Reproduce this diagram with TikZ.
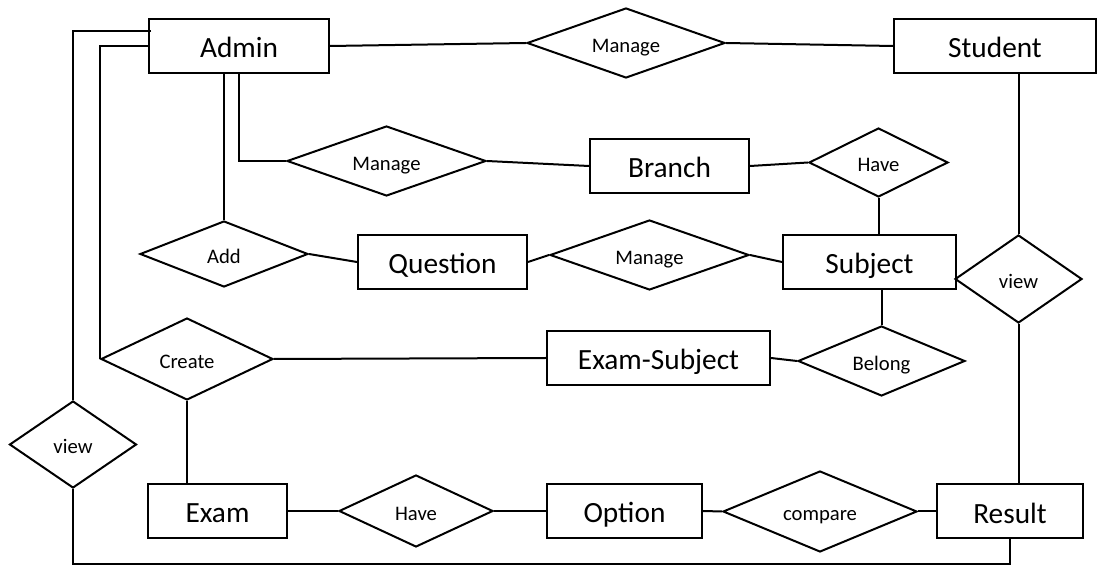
\documentclass[tikz,border=0pt]{standalone}
\usepackage{fontspec}
\setmainfont{Carlito}
\usepackage{tikz}
\usetikzlibrary{shapes.geometric,calc}

\begin{document}
\begin{tikzpicture}[x=0.75pt,y=-0.75pt,line width=1.5pt,
  entity/.style={draw,rectangle,minimum height=40.5pt,inner sep=0pt,text height=20pt,text depth=2pt,font=\fontsize{22}{26}\selectfont},
  relation/.style={draw,diamond,aspect=3,inner sep=0pt,text height=16pt,text depth=2pt,font=\fontsize{15.5}{18}\selectfont}]
\useasboundingbox (0,0) rectangle (1097,566);

\foreach \nm/\pos/\w/\txt in {{admin/(239,46)/135/Admin},{student/(995,46)/151.5/Student},{branch/(669.5,166)/119.25/Branch},{question/(442.5,262)/126.75/Question},{subject/(869.5,262)/129.75/Subject},{examsub/(658.5,358)/167.25/Exam-Subject},{exam/(217.5,511)/104.25/Exam},{option/(624.5,511)/116.25/Option},{result/(1010,511.5)/109.5/Result}} \node[entity,minimum width=\w pt] (\nm) at \pos {\txt};

\foreach \nm/\pos/\w/\h/\txt in {{manageA/(626,43)/148.5/52.5/Manage},{manageB/(386.5,161)/149.25/52.5/Manage},{haveA/(878.5,162.5)/104.25/51.75/Have},{add/(224,254)/126/49.5/Add},{manageC/(649.5,255)/149.25/52.5/Manage},{viewR/(1018.5,279)/95.25/66/view},{create/(187,359)/129/61.5/Create},{belong/(881.5,361)/125.25/52.5/Belong},{viewL/(73,444.5)/95.25/65.25/view},{haveB/(416,511)/115.5/54/Have},{compare/(820,511.5)/145.5/60.75/compare}} \node[relation,minimum width=\w pt,minimum height=\h pt] (\nm) at \pos {\txt};

\draw (admin.east) -- (manageA.west);
\draw (manageA.east) -- (student.west);
\draw ($(admin.west)+(3,-15)$) -| (viewL.north);
\draw (viewL.south) |- ($(result.south)+(0,25)$) -- (result.south);
\draw (admin.west) -| (create.west);
\draw (add.north |- admin.south) -- (add.north);
\draw (admin.south) |- (manageB.west);
\draw (manageB.east) -- (branch.west);
\draw (branch.east) -- (haveA.west);
\draw (haveA.south) -- (haveA.south |- subject.north);
\draw (add.east) -- (question.west);
\draw (question.east) -- (manageC.west);
\draw (manageC.east) -- (subject.west);
\draw (viewR.north |- student.south) -- (viewR.north);
\draw (viewR.south) -- (viewR.south |- result.north);
\draw (belong.north |- subject.south) -- (belong.north);
\draw (examsub.east) -- (belong.west);
\draw (create.east) -- (examsub.west);
\draw (create.south) -- (create.south |- exam.north);
\draw (exam.east) -- (haveB.west);
\draw (haveB.east) -- (option.west);
\draw (option.east) -- (compare.west);
\draw (compare.east) -- (result.west);

\end{tikzpicture}
\end{document}
